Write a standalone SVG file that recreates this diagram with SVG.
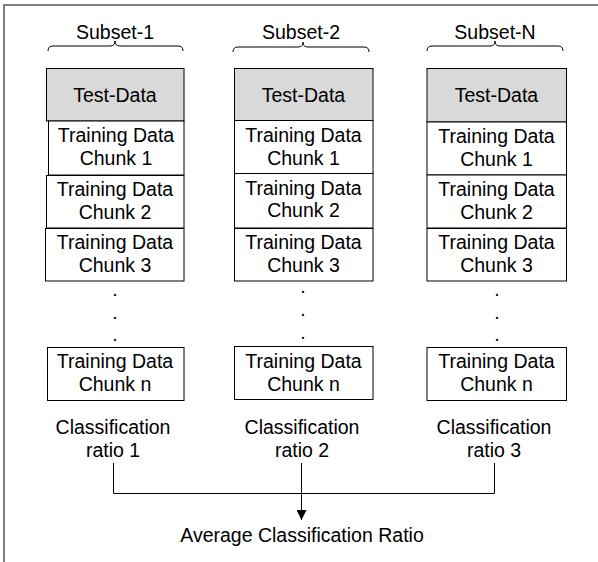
<svg xmlns="http://www.w3.org/2000/svg" width="598" height="562" viewBox="0 0 598 562">
<defs>
<style>
.frame{fill:none;stroke:#7f7f7f;stroke-width:2}
.box{fill:#fff;stroke:#000;stroke-width:1}
.test{fill:#d9d9d9;stroke:#000;stroke-width:1}
.brace{fill:none;stroke:#000;stroke-width:1}
.conn{fill:none;stroke:#000;stroke-width:1}
text{font-family:"Liberation Sans",Arial,sans-serif;font-size:19.5px;fill:#000;text-anchor:middle}
.dot{font-size:19.5px}
</style>
<marker id="arr" viewBox="0 0 10 10" refX="10" refY="5" markerWidth="10" markerHeight="10" markerUnits="userSpaceOnUse" orient="auto">
<path d="M0,0 L10,5 L0,10 Z" fill="#000"/>
</marker>
</defs>
<rect width="598" height="562" fill="#fff"/>
<path class="frame" d="M4,562 L4,5 L598,5"/>

<g id="subset-1">
<text x="115" y="39">Subset-1</text>
<path class="brace" d="M48,51 Q48,46 53,46 L110,46 Q115,46 115,41 Q115,46 120,46 L178,46 Q183,46 183,51"/>
<rect class="test" x="46.5" y="68.5" width="137.5" height="52.5"/>
<text x="115" y="102">Test-Data</text>
<rect class="box" x="48.5" y="121" width="135.5" height="54"/>
<text x="116" y="142">Training Data</text><text x="116" y="165">Chunk 1</text>
<rect class="box" x="46.5" y="175.5" width="137.5" height="52.5"/>
<text x="115" y="196">Training Data</text><text x="115" y="219">Chunk 2</text>
<rect class="box" x="45.5" y="228.5" width="138.5" height="52.5"/>
<text x="115" y="249">Training Data</text><text x="115" y="272">Chunk 3</text>
<text class="dot" x="115" y="296">.</text><text class="dot" x="115" y="319">.</text><text class="dot" x="115" y="341">.</text>
<rect class="box" x="47.5" y="347.5" width="136.5" height="53"/>
<text x="115" y="368">Training Data</text><text x="115" y="391">Chunk n</text>
<text x="113" y="434">Classification</text><text x="113" y="457">ratio 1</text>
</g>

<g id="subset-2">
<text x="301" y="39">Subset-2</text>
<path class="brace" d="M233,52 Q233,47 238,47 L298,47 Q303,47 303,42 Q303,47 308,47 L364,47 Q369,47 369,52"/>
<rect class="test" x="234.5" y="68.5" width="138.5" height="52"/>
<text x="303.5" y="102">Test-Data</text>
<rect class="box" x="234.5" y="120.5" width="138.5" height="53"/>
<text x="303.5" y="142">Training Data</text><text x="303.5" y="165">Chunk 1</text>
<rect class="box" x="234.5" y="173.5" width="138.5" height="54.5"/>
<text x="303.5" y="194.5">Training Data</text><text x="303.5" y="217">Chunk 2</text>
<rect class="box" x="234.5" y="228.5" width="138.5" height="52.5"/>
<text x="303.5" y="249">Training Data</text><text x="303.5" y="272">Chunk 3</text>
<text class="dot" x="303" y="293">.</text><text class="dot" x="303" y="316">.</text><text class="dot" x="303" y="339">.</text>
<rect class="box" x="234.5" y="346.5" width="138.5" height="53"/>
<text x="303.5" y="368">Training Data</text><text x="303.5" y="391">Chunk n</text>
<text x="302" y="434">Classification</text><text x="302" y="457">ratio 2</text>
</g>

<g id="subset-N">
<text x="495" y="39">Subset-N</text>
<path class="brace" d="M427,51 Q427,46 432,46 L490,46 Q495,46 495,41 Q495,46 500,46 L558,46 Q563,46 563,51"/>
<rect class="test" x="427" y="68.5" width="139.5" height="53.5"/>
<text x="496.5" y="102">Test-Data</text>
<rect class="box" x="427" y="122" width="139.5" height="53"/>
<text x="496.5" y="143">Training Data</text><text x="496.5" y="166">Chunk 1</text>
<rect class="box" x="427" y="175" width="139.5" height="53"/>
<text x="496.5" y="196">Training Data</text><text x="496.5" y="219">Chunk 2</text>
<rect class="box" x="427" y="228.5" width="139.5" height="52.5"/>
<text x="496.5" y="249">Training Data</text><text x="496.5" y="272">Chunk 3</text>
<text class="dot" x="497" y="296">.</text><text class="dot" x="497" y="319">.</text><text class="dot" x="497" y="341">.</text>
<rect class="box" x="427" y="347.5" width="139.5" height="53"/>
<text x="496.5" y="368">Training Data</text><text x="496.5" y="391">Chunk n</text>
<text x="494" y="434">Classification</text><text x="494" y="457">ratio 3</text>
</g>

<g id="connectors">
<path class="conn" d="M113.5,463 L113.5,493.5 L494.5,493.5 L494.5,463"/>
<path class="conn" d="M301.5,463 L301.5,520" marker-end="url(#arr)"/>
</g>

<g id="average">
<text x="302" y="542">Average Classification Ratio</text>
</g>
</svg>
